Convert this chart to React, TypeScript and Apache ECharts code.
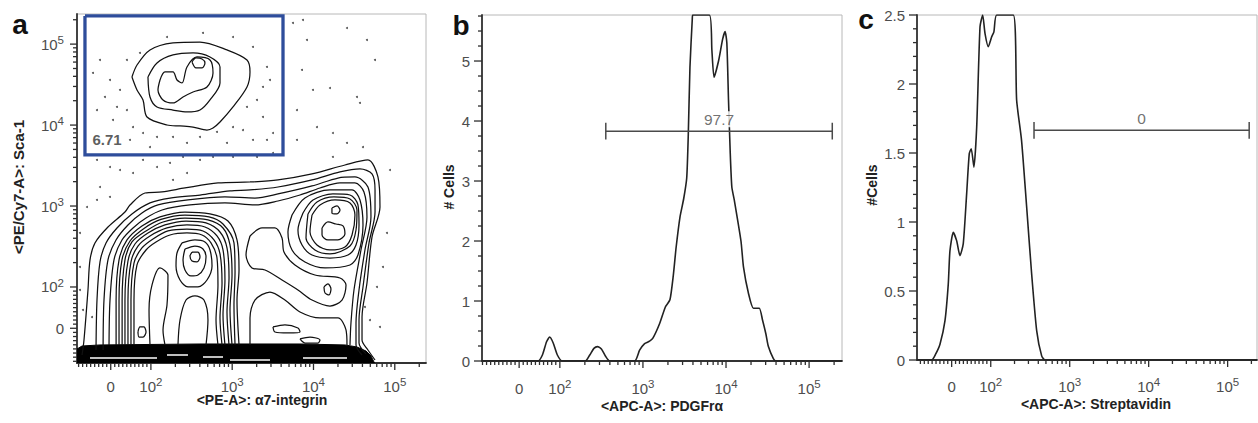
import { useEffect, useRef } from 'react';
import * as echarts from 'echarts';

const FONT = "'Liberation Sans', Arial, Helvetica, sans-serif";
const LABEL_COLOR = '#4d4d4d';

// ---------- tick labels of the biexponential (decade) axes ----------
const DECADE_TICK_LABELS = [
  { base: '0', sup: '' },
  { base: '10', sup: '2' },
  { base: '10', sup: '3' },
  { base: '10', sup: '4' },
  { base: '10', sup: '5' },
];
const B_Y_TICKS = [0, 1, 2, 3, 4, 5];
const C_Y_TICKS = [0, 0.5, 1, 1.5, 2, 2.5];

// ---------- axis extents (display decades; "zero" = position of the 0 label) ----------
const A_X_EXTENT = [1.091, 5.384];
const A_Y_EXTENT = [1.061, 5.372];
const A_X_ZERO = 1.506;
const A_Y_ZERO = 1.49;
const B_X_EXTENT = [1.063, 5.396];
const B_X_ZERO = 1.51;
const B_Y_MAX = 5.767;
const C_X_EXTENT = [1.066, 5.372];
const C_X_ZERO = 1.505;
const C_Y_MAX = 2.5;

// ---------- panel b: PDGFRα histogram (x in decades, y = # cells) ----------
const pdgfraCounts = [
  [1.063, 0], [1.736, 0], [1.79, 0.1], [1.84, 0.32], [1.878, 0.4], [1.92, 0.3], [1.97, 0.1], [2.03, 0],
  [2.308, 0], [2.36, 0.1], [2.41, 0.21], [2.453, 0.24], [2.5, 0.2], [2.55, 0.08], [2.6, 0],
  [2.9, 0], [2.96, 0.18], [3.02, 0.29], [3.08, 0.33], [3.12, 0.38], [3.2, 0.62], [3.27, 0.9],
  [3.325, 1.02], [3.365, 1.42], [3.4, 1.9], [3.446, 2.4], [3.49, 2.7], [3.527, 3.05], [3.546, 3.78],
  [3.566, 4.9], [3.594, 5.7], [3.6, 5.767], [3.8, 5.767], [3.83, 5.18], [3.856, 4.73], [3.91, 5.0],
  [3.96, 5.37], [3.989, 5.49], [4.01, 5.3], [4.03, 4.35], [4.05, 3.5], [4.07, 2.9], [4.1, 2.68],
  [4.18, 2.0], [4.21, 1.57], [4.27, 1.13], [4.33, 0.88], [4.4, 0.88], [4.44, 0.68], [4.48, 0.45],
  [4.51, 0.24], [4.57, 0.04], [4.6, 0], [5.396, 0],
];

// ---------- panel c: Streptavidin histogram ----------
const streptavidinCounts = [
  [1.066, 0], [1.252, 0], [1.3, 0.04], [1.357, 0.114], [1.42, 0.283], [1.462, 0.55], [1.483, 0.79],
  [1.525, 0.925], [1.568, 0.865], [1.61, 0.756], [1.652, 0.843], [1.695, 1.206], [1.728, 1.495],
  [1.753, 1.531], [1.787, 1.397], [1.822, 1.688], [1.864, 2.415], [1.898, 2.5], [1.927, 2.367],
  [1.969, 2.27], [2.012, 2.342], [2.04, 2.378], [2.075, 2.5], [2.285, 2.5], [2.328, 1.882],
  [2.39, 1.592], [2.455, 1.107], [2.518, 0.623], [2.582, 0.211], [2.645, 0.03], [2.687, 0], [5.372, 0],
];

// ---------- gates ----------
const gateB = { from: 2.553, to: 5.279, level: 3.83, cap: 0.14, label: '97.7' };
const gateC = { from: 2.548, to: 5.273, level: 1.664, cap: 0.06, label: '0' };
const gateA = { xFrom: 1.189, xTo: 3.625, yFrom: 3.631, yTo: 5.348, label: '6.71', labelAt: [1.46, 3.816] };

// ---------- panel a: contour lines (x = α7-integrin decades, y = Sca-1 decades) ----------
const bandTop = [
  [1.091, 1.234], [1.153, 1.271], [1.374, 1.284], [2.604, 1.296], [3.834, 1.296], [4.387, 1.284],
  [4.535, 1.259], [4.646, 1.209], [4.707, 1.148], [4.744, 1.074], [4.75, 1.061],
];
const bandStreaks = [
  [[2.198, 1.16], [2.456, 1.16]],
  [[1.251, 1.123], [2.075, 1.123]],
  [[2.641, 1.135], [2.887, 1.135]],
  [[2.973, 1.098], [3.465, 1.098]],
  [[3.871, 1.123], [4.412, 1.123]],
];
const contourOuter = [
  [1.153, 1.16], [1.177, 1.345], [1.226, 1.963], [1.251, 2.334], [1.312, 2.544], [1.472, 2.741],
  [1.681, 2.926], [1.743, 3.013], [1.927, 3.161], [2.137, 3.174], [2.419, 3.223], [2.825, 3.285],
  [3.219, 3.297], [3.563, 3.322], [3.982, 3.396], [4.387, 3.507], [4.67, 3.569], [4.793, 3.359],
  [4.818, 2.988], [4.72, 2.618], [4.658, 2.049], [4.597, 1.629], [4.597, 1.345], [4.67, 1.222], [4.757, 1.098],
];
const contourOuterInner = [
  [1.325, 1.222], [1.337, 1.839], [1.374, 2.309], [1.448, 2.544], [1.583, 2.729], [1.767, 2.902],
  [1.989, 3.038], [2.235, 3.099], [2.604, 3.136], [2.973, 3.186], [3.219, 3.198], [3.563, 3.235],
  [3.982, 3.322], [4.326, 3.421], [4.572, 3.458], [4.72, 3.396], [4.757, 3.198], [4.757, 2.926],
  [4.683, 2.544], [4.609, 2.0], [4.56, 1.592], [4.56, 1.308], [4.646, 1.173],
];
const contourSecond = [
  [1.412, 1.222], [1.423, 1.839], [1.472, 2.334], [1.571, 2.581], [1.718, 2.766], [1.89, 2.914],
  [2.087, 3.013], [2.456, 3.075], [2.911, 3.112], [3.28, 3.099], [3.563, 3.149], [3.982, 3.248],
  [4.301, 3.346], [4.51, 3.359], [4.67, 3.235], [4.707, 2.865], [4.633, 2.457], [4.56, 1.963],
  [4.523, 1.555], [4.523, 1.284], [4.597, 1.16],
];
const contourThird = [
  [1.485, 1.284], [1.497, 1.839], [1.546, 2.334], [1.644, 2.581], [1.78, 2.729], [1.94, 2.852],
  [2.137, 2.951], [2.481, 3.013], [2.911, 3.038], [3.28, 3.013], [3.563, 3.062], [3.834, 3.136],
  [4.08, 3.223], [4.326, 3.285], [4.51, 3.285], [4.621, 3.174], [4.658, 2.865], [4.584, 2.457],
  [4.498, 1.963], [4.461, 1.555], [4.449, 1.284],
];
const arcLeft1 = [
  [1.572, 1.284], [1.572, 1.839], [1.608, 2.334], [1.706, 2.581], [1.89, 2.754], [2.112, 2.865],
  [2.419, 2.926], [2.727, 2.902], [2.948, 2.815], [3.059, 2.581], [3.084, 2.21], [3.059, 1.839], [3.084, 1.284],
];
const arcLeft1b = [
  [1.608, 1.284], [1.608, 1.839], [1.644, 2.334], [1.743, 2.568], [1.915, 2.723], [2.124, 2.834],
  [2.419, 2.889], [2.715, 2.865], [2.887, 2.778], [3.022, 2.544], [3.035, 2.185], [3.022, 1.778], [3.035, 1.284],
];
const arcLeft2 = [
  [1.646, 1.284], [1.646, 1.839], [1.681, 2.334], [1.767, 2.556], [1.94, 2.692], [2.149, 2.803],
  [2.419, 2.852], [2.702, 2.828], [2.887, 2.729], [2.973, 2.519], [2.998, 2.148], [2.973, 1.716], [2.998, 1.284],
];
const arcLeft2b = [
  [1.681, 1.284], [1.681, 1.839], [1.718, 2.321], [1.804, 2.531], [1.964, 2.667], [2.173, 2.766],
  [2.432, 2.815], [2.678, 2.791], [2.85, 2.679], [2.936, 2.482], [2.961, 2.111], [2.936, 1.691], [2.961, 1.284],
];
const arcLeft3 = [
  [1.718, 1.284], [1.718, 1.839], [1.755, 2.309], [1.841, 2.506], [1.989, 2.63], [2.198, 2.729],
  [2.444, 2.766], [2.665, 2.741], [2.813, 2.63], [2.887, 2.457], [2.911, 2.086], [2.887, 1.654], [2.911, 1.284],
];
const arcLeft3b = [
  [1.755, 1.284], [1.755, 1.839], [1.792, 2.296], [1.89, 2.482], [2.026, 2.593], [2.21, 2.692],
  [2.444, 2.716], [2.641, 2.692], [2.776, 2.581], [2.85, 2.408], [2.875, 2.049], [2.85, 1.617], [2.875, 1.284],
];
const arcLeft4 = [
  [1.792, 1.284], [1.792, 1.839], [1.829, 2.272], [1.94, 2.457], [2.063, 2.556], [2.235, 2.642],
  [2.444, 2.667], [2.629, 2.642], [2.739, 2.544], [2.813, 2.358], [2.825, 2.025], [2.801, 1.592], [2.825, 1.284],
];
const strandLeft1 = [
  [1.989, 1.284], [1.977, 1.716], [2.014, 2.025], [2.112, 2.235], [2.21, 2.148], [2.198, 1.778], [2.149, 1.469], [2.173, 1.284],
];
const strandLeft2 = [
  [2.333, 1.284], [2.358, 1.592], [2.432, 1.839], [2.542, 1.889], [2.653, 1.839], [2.702, 1.592], [2.678, 1.284],
];
const middleOpen = [
  [3.219, 1.284], [3.219, 1.617], [3.28, 1.839], [3.465, 1.938], [3.649, 1.839], [3.834, 1.691],
  [4.08, 1.617], [4.301, 1.617], [4.4, 1.469], [4.412, 1.284],
];
// closed contours
const ringLeft1 = [
  [2.383, 2.544], [2.542, 2.581], [2.665, 2.556], [2.727, 2.457], [2.752, 2.259], [2.69, 2.086],
  [2.579, 2.0], [2.456, 2.0], [2.358, 2.086], [2.309, 2.259], [2.321, 2.42],
];
const ringLeft2 = [
  [2.419, 2.469], [2.542, 2.506], [2.641, 2.469], [2.678, 2.371], [2.653, 2.235], [2.579, 2.148],
  [2.493, 2.136], [2.419, 2.21], [2.395, 2.334],
];
const ringLeft3 = [[2.506, 2.432], [2.579, 2.432], [2.604, 2.371], [2.567, 2.309], [2.506, 2.321], [2.481, 2.383]];
const ringLow = [[1.841, 1.444], [1.866, 1.506], [1.915, 1.506], [1.94, 1.444], [1.903, 1.382], [1.854, 1.382]];
const ringMiddle = [
  [3.219, 2.63], [3.367, 2.729], [3.526, 2.729], [3.613, 2.605], [3.637, 2.432], [3.772, 2.272],
  [4.018, 2.148], [4.326, 2.111], [4.4, 2.025], [4.351, 1.839], [4.203, 1.765], [3.982, 1.839],
  [3.809, 1.963], [3.613, 2.086], [3.404, 2.21], [3.243, 2.235], [3.17, 2.395],
];
const ovalLow1 = [[3.502, 1.506], [3.649, 1.531], [3.809, 1.494], [3.834, 1.444], [3.686, 1.432], [3.526, 1.444]];
const ovalLow2 = [[3.834, 1.358], [3.957, 1.382], [4.08, 1.345], [4.055, 1.308], [3.895, 1.308]];
const ovalMid = [[4.129, 2.0], [4.178, 2.037], [4.215, 1.975], [4.191, 1.901], [4.142, 1.926]];
const ringRight1 = [[4.227, 2.976], [4.289, 3.001], [4.326, 2.951], [4.289, 2.902], [4.227, 2.914]];
const ringRight2 = [[4.105, 2.729], [4.178, 2.803], [4.277, 2.778], [4.363, 2.754], [4.387, 2.655], [4.301, 2.581], [4.178, 2.581], [4.105, 2.642]];
const ringRight3 = [[3.982, 2.889], [4.08, 3.013], [4.264, 3.075], [4.449, 3.038], [4.51, 2.889], [4.474, 2.642], [4.387, 2.494], [4.203, 2.457], [4.043, 2.519], [3.957, 2.679]];
const ringRight4 = [[3.932, 2.902], [4.043, 3.05], [4.252, 3.112], [4.449, 3.087], [4.535, 2.951], [4.523, 2.704], [4.449, 2.506], [4.203, 2.408], [4.018, 2.457], [3.908, 2.605]];
const ringRight5 = [[3.871, 2.914], [3.994, 3.075], [4.239, 3.149], [4.449, 3.136], [4.547, 3.013], [4.56, 2.766], [4.523, 2.519], [4.424, 2.395], [4.203, 2.358], [3.982, 2.395], [3.859, 2.519], [3.809, 2.704]];
const ringRight6 = [[3.736, 2.889], [3.895, 3.099], [4.203, 3.198], [4.474, 3.198], [4.572, 3.075], [4.609, 2.766], [4.547, 2.395], [4.449, 2.272], [4.142, 2.235], [3.895, 2.309], [3.736, 2.457], [3.686, 2.679]];
// gated Sca-1 high population
const gatedRing1 = [
  [1.767, 4.594], [1.829, 4.742], [1.989, 4.928], [2.272, 5.014], [2.604, 5.026], [2.936, 4.928],
  [3.182, 4.804], [3.219, 4.656], [3.182, 4.471], [3.01, 4.224], [2.85, 4.038], [2.764, 3.964],
  [2.69, 3.939], [2.518, 3.976], [2.358, 3.989], [2.198, 4.001], [1.952, 4.1], [1.903, 4.31], [1.829, 4.434],
];
const gatedRing2 = [
  [1.964, 4.594], [2.075, 4.767], [2.272, 4.866], [2.518, 4.891], [2.727, 4.841], [2.85, 4.718],
  [2.85, 4.52], [2.727, 4.31], [2.604, 4.186], [2.444, 4.162], [2.272, 4.186], [2.075, 4.224], [1.989, 4.347],
];
const gatedRing3 = [
  [2.112, 4.557], [2.173, 4.656], [2.272, 4.656], [2.321, 4.557], [2.383, 4.52], [2.444, 4.718],
  [2.567, 4.841], [2.727, 4.804], [2.764, 4.644], [2.69, 4.471], [2.518, 4.409], [2.395, 4.347],
  [2.272, 4.273], [2.149, 4.31], [2.087, 4.434],
];
const gatedRing4 = [[2.506, 4.779], [2.555, 4.829], [2.629, 4.817], [2.665, 4.767], [2.629, 4.705], [2.555, 4.705]];

const openContours = [
  contourOuter, contourOuterInner, contourSecond, contourThird, arcLeft1, arcLeft1b, arcLeft2, arcLeft2b,
  arcLeft3, arcLeft3b, arcLeft4, strandLeft1, strandLeft2, middleOpen,
];
const closedContours = [
  ringLeft1, ringLeft2, ringLeft3, ringLow, ringMiddle, ovalLow1, ovalLow2, ovalMid,
  ringRight1, ringRight2, ringRight3, ringRight4, ringRight5, ringRight6,
  gatedRing1, gatedRing2, gatedRing3, gatedRing4,
];

// single events outside the contours
const outlierEvents = [
  [1.374, 4.804], [1.288, 4.644], [1.497, 4.557], [1.435, 4.347], [1.337, 4.186], [1.583, 4.224],
  [1.62, 4.434], [1.705, 4.186], [1.534, 4.063], [1.78, 3.976], [1.903, 3.902], [2.075, 3.853],
  [2.272, 3.853], [2.444, 3.779], [2.604, 3.853], [2.813, 3.915], [3.01, 3.976], [3.182, 4.224],
  [3.305, 4.31], [3.379, 4.471], [3.428, 4.718], [3.256, 4.965], [3.01, 5.088], [2.641, 5.138],
  [2.198, 5.088], [1.866, 4.891], [1.705, 4.804], [3.379, 4.1], [3.502, 3.902], [3.256, 3.816],
  [2.936, 3.779], [1.989, 3.729], [1.743, 3.816], [3.465, 4.557], [3.133, 3.939], [3.428, 3.816],
  [3.748, 5.261], [3.871, 5.298], [4.412, 5.199], [4.658, 5.051], [3.92, 5.051], [4.757, 4.804],
  [3.859, 4.681], [3.994, 4.434], [4.203, 4.458], [4.535, 4.347], [4.572, 4.273], [3.797, 4.186],
  [4.043, 3.976], [4.239, 3.902], [4.412, 3.779], [4.609, 3.729], [4.239, 3.606], [3.797, 3.816],
  [4.941, 3.445], [4.904, 2.667], [4.855, 2.247], [4.781, 2.0], [4.633, 1.753], [4.695, 1.592],
  [4.818, 1.506], [1.337, 3.569], [1.497, 3.482], [1.62, 3.445], [1.78, 3.408], [1.903, 3.569],
  [2.075, 3.482], [2.235, 3.532], [2.395, 3.606], [2.604, 3.569], [2.764, 3.606], [3.01, 3.606],
  [3.305, 3.606], [3.502, 3.655], [2.272, 3.322], [2.444, 3.408], [1.374, 3.235], [1.214, 2.988],
  [1.128, 2.667], [1.128, 2.247], [1.128, 1.963], [1.165, 1.716], [1.276, 1.629], [1.337, 3.075],
  [1.497, 3.112],
];

// ---------- layout ----------
const GRID_A = { left: 77, top: 14, width: 349, height: 349 };
const GRID_B = { left: 482, top: 15, width: 360, height: 346 };
const GRID_C = { left: 917, top: 15, width: 340, height: 345 };

// ---------- helpers ----------
function decadeMajorTicks(zero: number, extent: number[]) {
  return [zero, 2, 3, 4, 5].filter((v) => v <= extent[1]);
}
function decadeMinorTicks(zero: number, extent: number[]) {
  const out: number[] = [];
  const step = (2 - zero) / 10;
  for (let k = -20; k <= 9; k++) {
    if (k === 0) continue;
    const v = zero + k * step;
    if (v >= extent[0] && v < 2 - 1e-6) out.push(v);
  }
  for (let dec = 2; dec <= 5; dec++) {
    for (let m = 2; m <= 9; m++) {
      const v = dec + Math.log10(m);
      if (v <= extent[1]) out.push(v);
    }
  }
  return out;
}

const RICH = {
  b: { fontSize: 15, fontFamily: FONT, color: LABEL_COLOR, lineHeight: 20 },
  s: { fontSize: 11.5, fontFamily: FONT, color: LABEL_COLOR, lineHeight: 13, verticalAlign: 'top' },
};

function decadeAxis(kind: 'x' | 'y', gridIndex: number, extent: number[], zero: number, margin: number) {
  const majors = decadeMajorTicks(zero, extent);
  const formatter = (v: number) => {
    let best = 0;
    majors.forEach((m, i) => {
      if (Math.abs(m - v) < Math.abs(majors[best] - v)) best = i;
    });
    const l = DECADE_TICK_LABELS[best];
    return l.sup ? `{b|${l.base}}{s|${l.sup}}` : `{b|${l.base}}`;
  };
  return {
    type: 'value',
    gridIndex,
    min: extent[0],
    max: extent[1],
    position: kind === 'x' ? 'bottom' : 'left',
    splitLine: { show: false },
    axisLine: { show: true, onZero: false, lineStyle: { color: '#333', width: 1.8 } },
    axisTick: { show: false },
    axisLabel: { show: true, customValues: majors, margin, formatter, rich: RICH },
  };
}

function countAxis(gridIndex: number, max: number, ticks: number[]) {
  return {
    type: 'value', gridIndex, min: 0, max, position: 'left', splitLine: { show: false },
    axisLine: { show: true, lineStyle: { color: '#333', width: 1.8 } },
    axisTick: { show: false },
    axisLabel: {
      show: true, customValues: ticks, margin: 12, fontSize: 15, fontFamily: FONT, color: LABEL_COLOR,
      formatter: (v: number) => String(v),
    },
  };
}

function line(data: number[][], xi: number, yi: number, extra: any = {}) {
  return {
    type: 'line', xAxisIndex: xi, yAxisIndex: yi, data, symbol: 'none', silent: true,
    animation: false, clip: true, ...extra,
  };
}

function gateSeries(g: any, xi: number, yi: number) {
  const st = { lineStyle: { color: '#4a4a4a', width: 1.5 }, z: 4 };
  return [
    line([[g.from, g.level], [g.to, g.level]], xi, yi, st),
    line([[g.from, g.level - g.cap], [g.from, g.level + g.cap]], xi, yi, st),
    line([[g.to, g.level - g.cap], [g.to, g.level + g.cap]], xi, yi, st),
    {
      type: 'scatter', xAxisIndex: xi, yAxisIndex: yi, symbolSize: 0, silent: true, z: 6,
      data: [[(g.from + g.to) / 2, g.level]],
      label: {
        show: true, position: 'top', distance: 4, formatter: g.label, fontSize: 15.5, fontFamily: FONT,
        color: LABEL_COLOR, backgroundColor: '#fff', padding: [0, 2],
      },
    },
  ];
}

function bMinorTicks() {
  const out: number[] = [];
  for (let i = 1; i < 24; i++) if (i % 4) out.push(i / 4);
  return out;
}
function cMinorTicks() {
  const out: number[] = [];
  for (let i = 1; i < 25; i++) if (i % 5) out.push(i / 10);
  return out;
}

function buildOption() {
  const xAxis = [
    decadeAxis('x', 0, A_X_EXTENT, A_X_ZERO, 13),
    decadeAxis('x', 1, B_X_EXTENT, B_X_ZERO, 17),
    decadeAxis('x', 2, C_X_EXTENT, C_X_ZERO, 16),
  ];
  const yAxis = [
    decadeAxis('y', 0, A_Y_EXTENT, A_Y_ZERO, 13),
    countAxis(1, B_Y_MAX, B_Y_TICKS),
    countAxis(2, C_Y_MAX, C_Y_TICKS),
  ];

  const contourStyle = { lineStyle: { color: '#111', width: 1.25 }, smooth: 0.3, z: 4 };
  const series: any[] = [
    line(bandTop, 0, 0, { lineStyle: { color: '#000', width: 1 }, areaStyle: { color: '#000', opacity: 1, origin: 'start' }, z: 2 }),
    ...bandStreaks.map((s) => line(s, 0, 0, { lineStyle: { color: '#fff', width: 1.3 }, z: 3 })),
    ...openContours.map((c) => line(c, 0, 0, contourStyle)),
    ...closedContours.map((c) => line([...c, c[0]], 0, 0, contourStyle)),
    {
      type: 'scatter', xAxisIndex: 0, yAxisIndex: 0, data: outlierEvents, symbolSize: 2, silent: true,
      itemStyle: { color: '#2a2a2a' }, z: 5,
    },
    line(
      [[gateA.xFrom, gateA.yTo], [gateA.xTo, gateA.yTo], [gateA.xTo, gateA.yFrom], [gateA.xFrom, gateA.yFrom], [gateA.xFrom, gateA.yTo]],
      0, 0, { lineStyle: { color: '#2e4d9b', width: 3.3, join: 'miter' }, z: 6 },
    ),
    {
      type: 'scatter', xAxisIndex: 0, yAxisIndex: 0, symbolSize: 0, silent: true, data: [gateA.labelAt], z: 7,
      label: { show: true, position: 'inside', formatter: gateA.label, fontSize: 15, fontWeight: 'bold', fontFamily: FONT, color: '#333' },
    },
    line(pdgfraCounts, 1, 1, { lineStyle: { color: '#222', width: 1.6 }, smooth: 0.2, z: 3 }),
    ...gateSeries(gateB, 1, 1),
    line(streptavidinCounts, 2, 2, { lineStyle: { color: '#222', width: 1.6 }, smooth: 0.2, z: 3 }),
    ...gateSeries(gateC, 2, 2),
  ];

  const gridStyle = { show: true, borderColor: '#b8b8b8', borderWidth: 1, backgroundColor: 'transparent' };

  return {
    animation: false,
    backgroundColor: '#fff',
    textStyle: { fontFamily: FONT },
    grid: [{ ...GRID_A, ...gridStyle }, { ...GRID_B, ...gridStyle }, { ...GRID_C, ...gridStyle }],
    xAxis,
    yAxis,
    series,
  };
}

function staticGraphics() {
  const title = (text: string, x: number, y: number, rotate = false, size = 14) => ({
    type: 'text', x, y, rotation: rotate ? Math.PI / 2 : 0, silent: true,
    style: { text, fontSize: size, fontWeight: 'bold', fontFamily: FONT, fill: '#222', align: 'center', verticalAlign: 'middle' },
  });
  const letter = (text: string, x: number, y: number) => ({
    type: 'text', x, y, silent: true,
    style: { text, fontSize: 28, fontWeight: 'bold', fontFamily: FONT, fill: '#111', align: 'center', verticalAlign: 'middle' },
  });
  return [
    letter('a', 20, 24),
    letter('b', 461, 25),
    letter('c', 866, 19),
    title('<PE-A>: α7-integrin', 262, 400),
    title('<PE/Cy7-A>: Sca-1', 18, 187, true, 15),
    title('<APC-A>: PDGFrα', 662, 406),
    title('# Cells', 449, 187, true),
    title('<APC-A>: Streptavidin', 1096, 404),
    title('#Cells', 872, 185, true),
  ];
}

// tick marks: positions converted from axis values by the chart's own scales
function tickGraphics(chart: any) {
  const els: any[] = [];
  const stroke = '#2e2e2e';
  const xTicks = (axis: number, values: number[], yBase: number, len: number) => {
    const y = chart.convertToPixel({ yAxisIndex: axis }, yBase);
    values.forEach((v) => {
      const x = chart.convertToPixel({ xAxisIndex: axis }, v);
      els.push({ type: 'line', silent: true, z: 50, shape: { x1: x, y1: y, x2: x, y2: y + len }, style: { stroke, lineWidth: 1.3 } });
    });
  };
  const yTicks = (axis: number, values: number[], xBase: number, len: number) => {
    const x = chart.convertToPixel({ xAxisIndex: axis }, xBase);
    values.forEach((v) => {
      const y = chart.convertToPixel({ yAxisIndex: axis }, v);
      els.push({ type: 'line', silent: true, z: 50, shape: { x1: x - len, y1: y, x2: x, y2: y }, style: { stroke, lineWidth: 1.3 } });
    });
  };
  xTicks(0, decadeMajorTicks(A_X_ZERO, A_X_EXTENT), A_Y_EXTENT[0], 7);
  xTicks(0, decadeMinorTicks(A_X_ZERO, A_X_EXTENT), A_Y_EXTENT[0], 4);
  yTicks(0, decadeMajorTicks(A_Y_ZERO, A_Y_EXTENT), A_X_EXTENT[0], 7);
  yTicks(0, decadeMinorTicks(A_Y_ZERO, A_Y_EXTENT), A_X_EXTENT[0], 4);
  xTicks(1, decadeMajorTicks(B_X_ZERO, B_X_EXTENT), 0, 7);
  xTicks(1, decadeMinorTicks(B_X_ZERO, B_X_EXTENT), 0, 4);
  yTicks(1, B_Y_TICKS, B_X_EXTENT[0], 8);
  yTicks(1, bMinorTicks(), B_X_EXTENT[0], 4);
  xTicks(2, decadeMajorTicks(C_X_ZERO, C_X_EXTENT), 0, 7);
  xTicks(2, decadeMinorTicks(C_X_ZERO, C_X_EXTENT), 0, 4);
  yTicks(2, C_Y_TICKS, C_X_EXTENT[0], 8);
  yTicks(2, cMinorTicks(), C_X_EXTENT[0], 4);
  return els;
}

export default function App() {
  const ref = useRef<HTMLDivElement>(null);
  useEffect(() => {
    if (!ref.current) return;
    const chart = echarts.init(ref.current, null, { renderer: 'svg' });
    chart.setOption(buildOption() as any);
    chart.setOption({ graphic: [...staticGraphics(), ...tickGraphics(chart)] } as any);
    return () => chart.dispose();
  }, []);
  return (
    <div
      ref={ref}
      style={{ position: 'absolute', left: 0, top: 0, width: 1258, height: 423, background: '#fff' }}
    />
  );
}
